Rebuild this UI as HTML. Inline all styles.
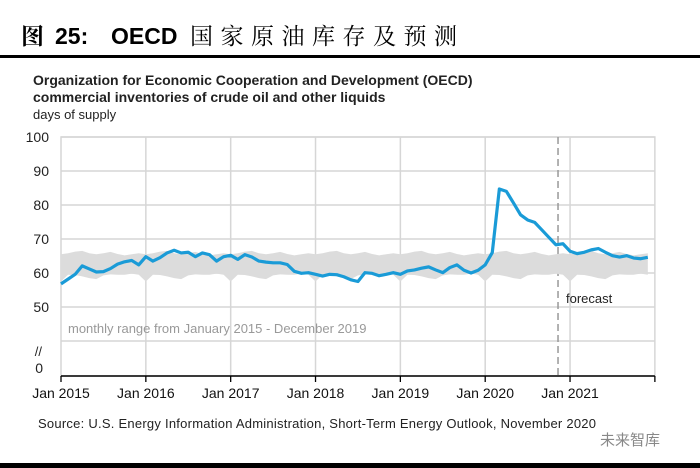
<!DOCTYPE html>
<html><head><meta charset="utf-8"><style>
body{margin:0;width:700px;height:468px;background:#fff;overflow:hidden;font-family:"Liberation Sans","Noto Sans CJK SC",sans-serif;}
svg{display:block}
</style></head><body>
<svg id="c" width="700" height="468">
<text y="44" font-size="23" font-weight="bold" font-family="'Liberation Sans','Noto Serif CJK SC',serif"><tspan x="21">图</tspan><tspan x="55">25:</tspan><tspan x="111">OECD</tspan><tspan x="190" font-weight="normal" letter-spacing="7.5" font-family="'Noto Serif CJK SC',serif">国家原油库存及预测</tspan></text>
<rect x="0" y="55" width="700" height="3" fill="#000"/>
<text x="33" y="85" font-size="14" font-weight="bold" fill="#222">Organization for Economic Cooperation and Development (OECD)</text>
<text x="33" y="102" font-size="14" font-weight="bold" fill="#222">commercial  inventories of crude oil and other liquids</text>
<text x="33" y="119" font-size="13" fill="#222">days of supply</text>
<g id="grid"></g>
<g id="band"></g>
<g id="line"></g>
<g id="axis"></g>
<text x="68" y="333" font-size="13" fill="#999">monthly range from January 2015 - December 2019</text>
<text x="566" y="303" font-size="13" fill="#222">forecast</text>
<text x="38" y="428" font-size="13" fill="#222" textLength="558">Source: U.S. Energy Information Administration, Short-Term Energy Outlook, November 2020</text>
<text x="600" y="445" font-size="15" fill="#888">未来智库</text>
<rect x="0" y="463" width="700" height="5" fill="#000"/>
</svg>
<script>
const yTicks=[100,90,80,70,60,50];
const xLabels=["Jan 2015","Jan 2016","Jan 2017","Jan 2018","Jan 2019","Jan 2020","Jan 2021"];
const inventory=[56.8,58.2,59.6,62.1,61.2,60.3,60.4,61.3,62.6,63.3,63.7,62.4,
64.8,63.5,64.5,65.9,66.7,65.9,66.1,64.8,65.9,65.4,63.5,64.8,
65.2,64.0,65.4,64.7,63.5,63.2,63.0,63.0,62.5,60.5,59.9,60.1,
59.6,59.1,59.6,59.5,58.9,58.0,57.5,60.1,59.9,59.2,59.6,60.1,
59.6,60.6,60.9,61.4,61.8,60.9,60.1,61.6,62.4,60.8,60.0,60.8,
62.4,66.0,84.7,84.0,80.6,77.1,75.6,74.9,72.7,70.5,68.3,68.6,
66.4,65.7,66.1,66.8,67.2,66.1,65.1,64.7,65.1,64.4,64.2,64.6];
const bandUpper=[65.5,65.8,66.3,66.5,65.8,65.5,65.8,66.2,65.6,65.2,65.5,65.8];
const bandLower=[57.5,59.5,59.4,59.0,58.5,58.2,59.3,59.6,59.5,59.5,59.8,59.5];
const forecastStart=70.3;
const X0=61,MW=7.07,AX=376;
const xs=i=>X0+i*MW;
const ys=v=>137+(100-v)*3.4;
const NS="http://www.w3.org/2000/svg";
function mk(t,a,p){const e=document.createElementNS(NS,t);for(const k in a)e.setAttribute(k,a[k]);p.appendChild(e);return e;}
const grid=document.getElementById('grid'),band=document.getElementById('band'),line=document.getElementById('line'),axis=document.getElementById('axis');
const XR=xs(84);
mk('rect',{x:X0,y:137,width:XR-X0,height:AX-137,fill:'none',stroke:'#d6d6d6','stroke-width':1.5},grid);
[...yTicks,40].forEach(v=>{
 const l=mk('line',{x1:X0,x2:XR,y1:ys(v),y2:ys(v),stroke:'#d6d6d6','stroke-width':1.5},grid);
 
 
});
yTicks.forEach(v=>{
 const t=mk('text',{x:49,y:ys(v)+5,'font-size':14,'text-anchor':'end',fill:'#222'},axis);
 t.textContent=v;
 
 
});
let t=mk('text',{x:42,y:356,'font-size':13,'text-anchor':'end',fill:'#222'},axis);t.textContent='//';


t=mk('text',{x:43,y:373,'font-size':14,'text-anchor':'end',fill:'#222'},axis);t.textContent='0';


for(let k=0;k<=7;k++){
 const x=xs(k*12);
 if(k>0&&k<7){const g=mk('line',{x1:x,x2:x,y1:137,y2:AX,stroke:'#d6d6d6','stroke-width':1.5},grid);
 
 }
 const tk=mk('line',{x1:x,x2:x,y1:AX,y2:AX+6,stroke:'#000','stroke-width':1.3},axis);
 
 
 if(k<xLabels.length){const lb=mk('text',{x:x,y:398,'font-size':14,'text-anchor':'middle',fill:'#111'},axis);lb.textContent=xLabels[k];
 
 }
}
const ax=mk('line',{x1:X0,x2:XR,y1:AX,y2:AX,stroke:'#000','stroke-width':1.5},axis);


let up=[],lo=[];
for(let i=0;i<84;i++){up.push(xs(i)+','+ys(bandUpper[i%12]));lo.unshift(xs(i)+','+ys(bandLower[i%12]));}
const bp=mk('polygon',{points:up.concat(lo).join(' '),fill:'#dcdcdc'},band);


const fx=xs(forecastStart);
const fl=mk('line',{x1:fx,x2:fx,y1:137,y2:AX,stroke:'#999','stroke-width':1.5,'stroke-dasharray':'7,4'},grid);


const pl=mk('polyline',{points:inventory.map((v,i)=>xs(i)+','+ys(v)).join(' '),fill:'none',stroke:'#1a9bd7','stroke-width':3.2,'stroke-linejoin':'round'},line);


</script>
</body></html>
